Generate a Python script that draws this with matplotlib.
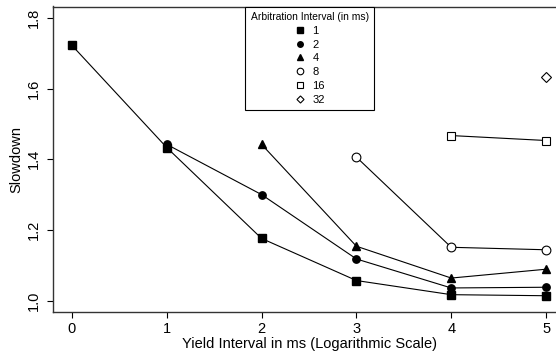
import matplotlib
matplotlib.use("Agg")
import matplotlib.pyplot as plt
from matplotlib.lines import Line2D

plt.rcParams["font.family"] = ["Liberation Sans", "DejaVu Sans"]

# slowdown per arbitration interval, indexed by log yield interval
yield_1 = [0, 1, 2, 3, 4, 5]
slow_1 = [1.722, 1.433, 1.176, 1.057, 1.017, 1.014]
yield_2 = [1, 2, 3, 4, 5]
slow_2 = [1.442, 1.300, 1.118, 1.036, 1.038]
yield_4 = [2, 3, 4, 5]
slow_4 = [1.442, 1.154, 1.064, 1.089]
yield_8 = [3, 4, 5]
slow_8 = [1.406, 1.151, 1.144]
yield_16 = [4, 5]
slow_16 = [1.467, 1.453]
yield_32 = [5]
slow_32 = [1.632]

arb_labels = ["1", "2", "4", "8", "16", "32"]
x_ticks = [0, 1, 2, 3, 4, 5]
y_ticks = [1.0, 1.2, 1.4, 1.6, 1.8]

W, H = 556, 358
fig = plt.figure(figsize=(W / 100, H / 100), dpi=100)
ax = fig.add_axes([53 / W, 1 - 312 / H, 512 / W, (312 - 6.5) / H])

styles = [
    dict(marker="s", ms=5.8, mfc="black", mec="black"),
    dict(marker="o", ms=5.3, mfc="black", mec="black"),
    dict(marker="^", ms=6.3, mfc="black", mec="black"),
    dict(marker="o", ms=6.3, mfc="white", mec="black", mew=0.8),
    dict(marker="s", ms=5.3, mfc="white", mec="black", mew=0.8),
    dict(marker="D", ms=4.8, mfc="white", mec="black", mew=0.8),
]
series = [(yield_1, slow_1), (yield_2, slow_2), (yield_4, slow_4),
          (yield_8, slow_8), (yield_16, slow_16), (yield_32, slow_32)]

for (xs, ys), st in zip(series, styles):
    ax.plot(xs, ys, color="black", lw=0.8, zorder=3, **st)

ax.set_xlim(-0.2, 5.2)
ax.set_ylim(0.968, 1.832)
ax.set_xticks(x_ticks)
ax.set_xticklabels([str(t) for t in x_ticks])
ax.set_yticks(y_ticks)
ax.set_yticklabels([f"{t:.1f}" for t in y_ticks], rotation=90, va="center")
ax.tick_params(direction="out", length=4, width=0.8, labelsize=10.5, pad=3)
ax.tick_params(axis="y", pad=5)
for sp in ax.spines.values():
    sp.set_color("#333333")
    sp.set_linewidth(1.0)

ax.set_xlabel("Yield Interval in ms (Logarithmic Scale)", fontsize=10.5, labelpad=1)
ax.set_ylabel("Slowdown", fontsize=10.5, labelpad=2)

handles = [Line2D([], [], linestyle="none", color="black",
                  **dict(st, ms=st["ms"] * 0.75)) for st in styles]
leg = ax.legend(handles, arb_labels, title="Arbitration Interval (in ms)",
                loc="upper left", bbox_to_anchor=(245 / W, 1 - 6.5 / H),
                bbox_transform=fig.transFigure, fontsize=8,
                title_fontsize=7.4, frameon=True, fancybox=False,
                framealpha=1, edgecolor="black", handlelength=1.0,
                handletextpad=0.6, labelspacing=0.34, borderpad=0.5,
                borderaxespad=0)
leg.get_frame().set_linewidth(0.8)

fig.savefig("out.png", dpi=100)
